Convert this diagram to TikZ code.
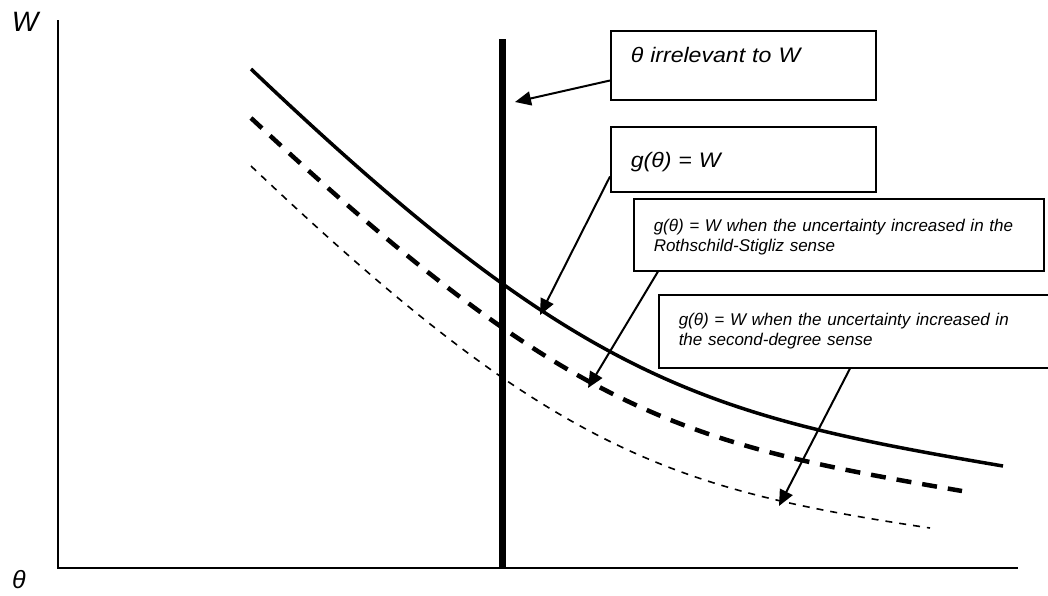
\documentclass[tikz,border=0pt]{standalone}
\usepackage{fontspec}
\setmainfont{Liberation Sans}
\newfontfamily\widefont[FakeStretch=1.1]{Liberation Sans}
\usetikzlibrary{arrows.meta,positioning}

\begin{document}
\begin{tikzpicture}[x=1pt,y=-1pt,>={Triangle[length=16pt,width=14pt]},
  note/.style={draw,line width=1.5pt,anchor=north west,inner ysep=0pt,inner xsep=20pt,align=left},
  bignote/.style={note,text width=225pt,font=\widefont\itshape\fontsize{21}{25}\selectfont},
  smallnote/.style={note,text width=370pt,font=\itshape\fontsize{17}{20}\selectfont},
  curve/.style={line width=3.5pt},
  rsdash/.style={line width=4.5pt,dash pattern=on 15pt off 11pt},
  sddash/.style={line width=1.6pt,dash pattern=on 7pt off 7pt}]

  \useasboundingbox (0,0) rectangle (1048,595);

  \coordinate (top)    at (58,20);
  \coordinate (origin) at (58,568);
  \coordinate (right)  at (1018,568);
  \draw[line width=2pt] (top) -- (origin) -- (right);

  \node (wlab)     at (25,22)  {\itshape\fontsize{28}{30}\selectfont W};
  \node (thetalab) [anchor=base,inner sep=0pt,text depth=0pt] at (19,588)
    {\itshape\fontsize{25}{27}\selectfont θ};

  \draw[line width=7pt] (502,39) -- (502,568);

  \draw[curve]  (251,69)  .. controls (581,383) and (703,415) .. (1003,466);
  \draw[rsdash] (251,118) .. controls (571,416) and (682,443) .. (962,491);
  \draw[sddash] (251,166) .. controls (551,451) and (670,489) .. (930,528);

  \node[bignote]   (irr) at (610,30)  [text height=32pt,text depth=37pt] {θ irrelevant to W};
  \node[bignote]   (gw)  at (610,126) [text height=41pt,text depth=24pt] {g(θ) = W};
  \node[smallnote] (rs)  at (633,198) [text height=33pt,text depth=39pt]
    {g(θ) = W when the uncertainty increased in the\\Rothschild-Stigliz sense};
  \node[smallnote] (sd)  at (658,294) [text height=31pt,text depth=42pt]
    {g(θ) = W when the uncertainty increased in\\the second-degree sense};

  \coordinate (tipirr) at (515,102);
  \coordinate (tipgw)  at (540,315);
  \coordinate (tiprs)  at (588,388);
  \coordinate (tipsd)  at (779,506);

  \path[->,line width=2pt]
    ([yshift=20pt]irr.south west)  edge (tipirr)
    ([yshift=16pt]gw.south west)   edge (tipgw)
    ([xshift=25pt]rs.south west)   edge (tiprs)
    ([xshift=192pt]sd.south west)  edge (tipsd)
  ;
\end{tikzpicture}
\end{document}
